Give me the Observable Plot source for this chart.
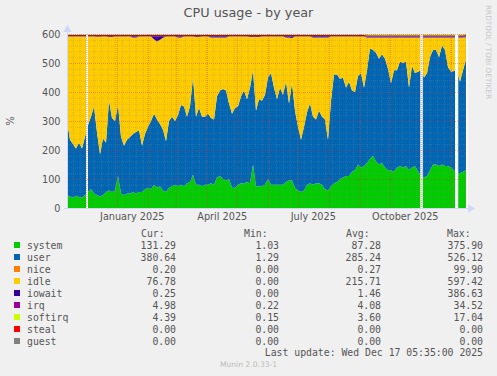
<!DOCTYPE html>
<html><head><meta charset="utf-8">
<script src="https://cdn.jsdelivr.net/npm/d3@7"></script>
<script src="https://cdn.jsdelivr.net/npm/@observablehq/plot@0.6"></script>
<style>
html,body{margin:0;padding:0;background:#F0F0F0;}
#chart{position:relative;width:497px;height:376px;background:#F0F0F0;overflow:hidden;font-family:"DejaVu Sans",sans-serif;color:#555;}
#chart svg{position:absolute;left:0;top:0;}
.t{position:absolute;white-space:pre;line-height:12px;}
.mono{font-family:"DejaVu Sans Mono",monospace;font-size:9.8px;}
.sq{position:absolute;width:6px;height:6px;}
</style></head><body><div id="chart"></div>
<script>
// ---- data: one sample every 3 days, null = no data ----
const startDate = "2024-11-12T05:35:00Z";
const endDate = "2025-12-17T05:35:00Z";
const stepDays = 3;
const gapStarts = ["2024-12-01T06:00:00Z", "2025-10-31T12:00:00Z", "2025-12-05T06:00:00Z"];
const gapEnds = ["2024-12-03T06:00:00Z", "2025-11-03T00:00:00Z", "2025-12-08T12:00:00Z"];
const system = [45,40,35,42,38,35,null,55,65,50,
 45,40,45,55,60,55,60,110,50,45,
 50,50,55,50,55,55,65,70,65,80,
 70,75,60,55,70,75,80,75,80,75,
 85,90,115,80,80,75,80,80,85,80,
 105,110,100,95,100,70,70,80,85,85,
 90,85,150,75,75,75,80,100,80,80,
 80,80,80,90,95,95,70,60,55,60,
 80,85,80,85,85,80,65,60,75,85,
 90,100,105,110,110,125,130,150,140,145,
 155,170,180,160,150,155,140,130,130,125,
 140,145,140,145,130,140,145,null,110,105,
 110,130,150,150,145,150,145,145,140,null,
 120,120,125,131];
const user = [255,195,185,163,187,170,null,230,250,300,
 215,145,195,170,310,255,240,245,195,170,
 185,195,200,212,213,160,190,210,235,245,
 235,215,210,175,230,240,220,245,275,275,
 230,260,335,235,265,240,235,245,225,225,
 280,295,310,310,260,255,275,270,300,320,
 285,330,325,260,300,295,310,350,385,335,
 295,335,310,345,265,335,265,220,180,220,
 250,275,235,220,250,235,240,175,295,375,
 370,345,345,305,325,280,270,305,325,270,
 320,380,365,375,365,375,375,350,300,350,
 335,360,360,360,285,350,320,null,365,345,
 355,390,395,395,375,410,400,340,330,null,
 355,315,350,381];
const nice = [0.3,0.3,0.3,0.3,0.3,0.3,null,0.3,0.3,0.3,
 0.3,0.3,0.3,0.3,0.3,0.3,0.3,0.3,0.3,0.3,
 0.3,0.3,0.3,0.3,0.3,0.3,0.3,0.3,0.3,0.3,
 0.3,0.3,0.3,0.3,0.3,0.3,0.3,0.3,0.3,0.3,
 0.3,0.3,0.3,0.3,0.3,0.3,0.3,0.3,0.3,0.3,
 0.3,0.3,0.3,0.3,0.3,0.3,0.3,0.3,0.3,0.3,
 0.3,0.3,0.3,0.3,0.3,0.3,0.3,0.3,0.3,0.3,
 0.3,0.3,0.3,0.3,0.3,0.3,0.3,0.3,0.3,0.3,
 0.3,0.3,0.3,0.3,0.3,0.3,0.3,0.3,0.3,0.3,
 0.3,0.3,0.3,0.3,0.3,0.3,0.3,0.3,0.3,0.3,
 0.3,0.3,0.3,0.3,0.3,0.3,0.3,0.3,0.3,0.3,
 0.3,0.3,0.3,0.3,0.3,0.3,0.3,null,0.3,0.3,
 0.3,0.3,0.3,0.3,0.3,0.3,0.3,0.3,0.3,null,
 0.3,0.3,0.3,0.2];
const idle = [291,356,371,386,366,386,null,306,276,241,
 330,405,351,366,219,279,291,236,346,376,
 356,346,333,326,323,376,336,311,291,257,
 269,290,317,361,291,276,291,268,233,241,
 276,241,141,274,244,276,276,266,278,283,
 203,183,178,183,231,266,246,241,206,186,
 216,174,114,254,214,221,201,141,126,176,
 216,176,201,153,228,156,256,311,356,311,
 261,231,273,283,253,273,283,353,221,131,
 131,146,141,176,156,186,191,136,126,176,
 113,38,43,53,73,58,73,108,158,113,
 113,83,88,83,173,98,123,null,113,138,
 123,68,43,43,68,28,43,103,118,null,
 113,153,113,77];
const iowait = [1,1,1,1,1,1,null,1,1,1,
 2,2,1,1,3,3,1,1,1,1,
 1,1,4,4,1,1,1,1,1,10,
 18,12,5,1,1,1,1,4,4,1,
 1,1,1,3,3,1,1,1,4,4,
 4,4,4,4,1,1,1,1,1,1,
 1,3,3,3,3,1,1,1,1,1,
 1,1,1,4,4,6,1,1,1,1,
 1,1,4,4,4,4,4,4,1,1,
 1,1,1,1,1,1,1,1,1,1,
 2,2,2,2,2,2,2,2,2,2,
 2,2,2,2,2,2,2,null,2,2,
 2,2,2,2,2,2,2,2,2,null,
 2,2,2,2];
const irq = [4,4,4,4,4,4,null,4,4,4,
 4,4,4,4,4,4,4,4,4,4,
 4,4,4,4,4,4,4,4,4,4,
 4,4,4,4,4,4,4,4,4,4,
 4,4,4,4,4,4,4,4,4,4,
 4,4,4,4,4,4,4,4,4,4,
 4,4,4,4,4,4,4,4,4,4,
 4,4,4,4,4,4,4,4,4,4,
 4,4,4,4,4,4,4,4,4,4,
 4,4,4,4,4,4,4,4,4,4,
 5,5,5,5,5,5,5,5,5,5,
 5,5,5,5,5,5,5,null,5,5,
 5,5,5,5,5,5,5,5,5,null,
 5,5,5,5];
const softirq = [3.5,3.5,3.5,3.5,3.5,3.5,null,3.5,3.5,3.5,
 3.5,3.5,3.5,3.5,3.5,3.5,3.5,3.5,3.5,3.5,
 3.5,3.5,3.5,3.5,3.5,3.5,3.5,3.5,3.5,3.5,
 3.5,3.5,3.5,3.5,3.5,3.5,3.5,3.5,3.5,3.5,
 3.5,3.5,3.5,3.5,3.5,3.5,3.5,3.5,3.5,3.5,
 3.5,3.5,3.5,3.5,3.5,3.5,3.5,3.5,3.5,3.5,
 3.5,3.5,3.5,3.5,3.5,3.5,3.5,3.5,3.5,3.5,
 3.5,3.5,3.5,3.5,3.5,3.5,3.5,3.5,3.5,3.5,
 3.5,3.5,3.5,3.5,3.5,3.5,3.5,3.5,3.5,3.5,
 3.5,3.5,3.5,3.5,3.5,3.5,3.5,3.5,3.5,3.5,
 4.4,4.4,4.4,4.4,4.4,4.4,4.4,4.4,4.4,4.4,
 4.4,4.4,4.4,4.4,4.4,4.4,4.4,null,4.4,4.4,
 4.4,4.4,4.4,4.4,4.4,4.4,4.4,4.4,4.4,null,
 4.4,4.4,4.4,4.4];

const names = ["system","user","nice","idle","iowait","irq","softirq","steal","guest"];
const colors = ["#00CC00","#0066B3","#FF8000","#FFCC00","#330099","#990099","#CCFF00","#FF0000","#808080"];
const curVals = [131.29,380.64,0.20,76.78,0.25,4.98,4.39,0,0];
const minVals = [1.03,1.29,0,0,0,0.22,0.15,0,0];
const avgVals = [87.28,285.24,0.27,215.71,1.46,4.08,3.60,0,0];
const maxVals = [375.90,526.12,99.90,597.42,386.63,34.52,17.04,0,0];
const yTicks = [0,100,200,300,400,500,600];
const xLabelDates = ["2025-01-16","2025-04-16","2025-07-16","2025-10-16"];
const xLabels = ["January 2025","April 2025","July 2025","October 2025"];
const title = "CPU usage - by year";
const yLabel = "%";
const lastUpdate = "Last update: Wed Dec 17 05:35:00 2025";
const version = "Munin 2.0.33-1";
const sideText = "RRDTOOL / TOBI OETIKER";

// ---- build ----
const DAY = 864e5;
const t0 = new Date(startDate), t1 = new Date(endDate);
const series = {system, user, nice, idle, iowait, irq, softirq};
const rows = [];
for (let i = 0; i < system.length; i++) {
  if (system[i] == null) continue;
  const x = new Date(+t0 + i * stepDays * DAY);
  for (const n of names) {
    const v = series[n] ? series[n][i] : 0;
    rows.push({x, n, v: v == null ? 0 : v});
  }
}
const gaps = gapStarts.map((s, i) => ({a: new Date(s), b: new Date(gapEnds[i])}));
const minorY = d3.range(20, 600, 20).filter(v => v % 100 !== 0);
const majorY = [100,200,300,400,500,600];
const monthStarts = d3.utcMonth.range(t0, t1);
const minorX = d3.utcMonday.range(t0, t1);
const axisCol = "#CFD6F8";

const plot = Plot.plot({
  width: 497, height: 230,
  marginLeft: 67, marginRight: 30, marginTop: 34, marginBottom: 22,
  style: {background: "transparent", fontFamily: "DejaVu Sans", fontSize: "9.7px", color: "#555", overflow: "visible"},
  x: {type: "utc", domain: [t0, t1], axis: null},
  y: {domain: [0, 600], axis: null},
  color: {domain: names, range: colors},
  marks: [
    Plot.frame({fill: "white", stroke: null}),
    Plot.areaY(rows, Plot.stackY({x: "x", y: "v", fill: "n", order: names, curve: "linear"})),
    Plot.rect(gaps, {x1: "a", x2: "b", y1: 0, y2: 600, fill: "white"}),
    Plot.ruleY(minorY, {stroke: "#8c8c8c", strokeOpacity: 0.3, strokeDasharray: "1,1"}),
    Plot.ruleX(minorX, {stroke: "#8c8c8c", strokeOpacity: 0.3, strokeDasharray: "1,1", insetBottom: -2}),
    Plot.ruleY(majorY, {stroke: "#e03030", strokeOpacity: 0.4, strokeDasharray: "1,1"}),
    Plot.ruleX(monthStarts, {stroke: "#e03030", strokeOpacity: 0.4, strokeDasharray: "1,1", insetBottom: -2}),
    Plot.ruleY([0], {x1: new Date(+t0 - 3 * DAY), x2: new Date(+t1 + 2 * DAY), stroke: axisCol}),
    Plot.ruleX([t0], {y1: 0, y2: 610, stroke: axisCol}),
    Plot.dot([0], {x: () => new Date(+t1 + 3 * DAY), y: 0, symbol: "triangle", r: 3, fill: axisCol, stroke: null, rotate: 90}),
    Plot.dot([0], {x: () => t0, y: 617, symbol: "triangle", r: 3, fill: axisCol, stroke: null}),
    Plot.axisY(yTicks, {tickSize: 0, tickPadding: 7, label: null, fill: "#555"}),
    Plot.text(xLabelDates.map((d, i) => ({d: new Date(d + "T00:00:00Z"), l: xLabels[i]})),
      {x: "d", text: "l", frameAnchor: "bottom", dy: 8, lineAnchor: "middle", fill: "#555"})
  ]
});
const chart = document.getElementById("chart");
chart.appendChild(plot);

function addText(txt, css, cls) {
  const d = document.createElement("div");
  d.className = "t" + (cls ? " " + cls : "");
  d.textContent = txt;
  Object.assign(d.style, css);
  chart.appendChild(d);
  return d;
}
addText(title, {left: "0px", width: "497px", textAlign: "center", top: "7px", fontSize: "12.8px", color: "#555"});
addText(sideText, {left: "484px", top: "5px", fontSize: "7.3px", color: "#c8c8c8", writingMode: "vertical-rl", lineHeight: "9px"});
addText(yLabel, {left: "5px", top: "115px", fontSize: "10px", color: "#555", transform: "rotate(-90deg)", width: "12px", textAlign: "center"});

// legend
const rightEdges = [176, 279, 381, 483];
const heads = ["Cur:", "Min:", "Avg:", "Max:"];
const headLeft = [141, 244, 346, 447];
heads.forEach((h, k) => addText(h, {left: headLeft[k] + "px", top: "227.7px"}, "mono"));
names.forEach((n, i) => {
  const cy = 245.7 + 12 * i;
  const sq = document.createElement("div");
  sq.className = "sq";
  Object.assign(sq.style, {left: "14px", top: (cy - 3.3) + "px", background: colors[i]});
  chart.appendChild(sq);
  addText(n, {left: "27px", top: (cy - 6) + "px"}, "mono");
  [curVals, minVals, avgVals, maxVals].forEach((arr, k) => {
    addText(arr[i].toFixed(2), {right: (497 - rightEdges[k]) + "px", top: (cy - 6) + "px", textAlign: "right"}, "mono");
  });
});
addText(lastUpdate, {right: (497 - 483) + "px", top: "347.3px"}, "mono");
addText(version, {left: "0px", width: "497px", textAlign: "center", top: "359px", fontSize: "7.6px", color: "#bbb"});
</script></body></html>
